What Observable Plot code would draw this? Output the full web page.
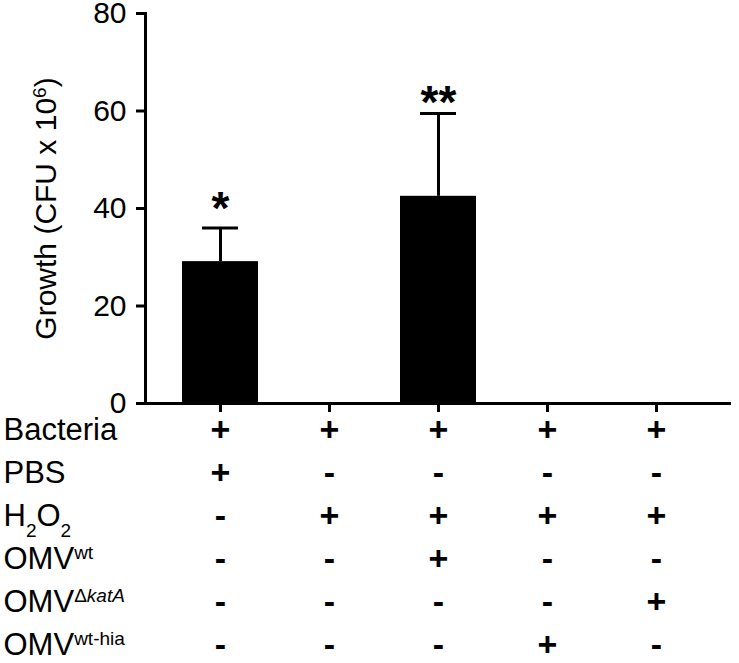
<!DOCTYPE html>
<html>
<head>
<meta charset="utf-8">
<script src="https://cdn.jsdelivr.net/npm/d3@7"></script>
<script src="https://cdn.jsdelivr.net/npm/@observablehq/plot@0.6"></script>
<style>
  html, body { margin: 0; padding: 0; background: white; }
  #chart svg { display: block; }
</style>
</head>
<body>
<div id="chart"></div>
<script>
// ---- data ----
const groups = ["G1", "G2", "G3", "G4", "G5"];
const growth = [29.1, 0, 42.5, 0, 0];
const growthErr = [6.9, 0, 17.0, 0, 0];
const stars = ["*", "", "**", "", ""];
const yTicks = [0, 20, 40, 60, 80];
const yLabel = "Growth (CFU x 106)";

const rows = ["Bacteria", "PBS", "H2O2", "OMVwt", "OMVΔkatA", "OMVwt-hia"];
const bacteria = ["+", "+", "+", "+", "+"];
const pbs      = ["+", "-", "-", "-", "-"];
const h2o2     = ["-", "+", "+", "+", "+"];
const omvWt    = ["-", "-", "+", "-", "-"];
const omvKatA  = ["-", "-", "-", "-", "+"];
const omvHia   = ["-", "-", "-", "+", "-"];
const rowSymbols = [bacteria, pbs, h2o2, omvWt, omvKatA, omvHia];

// rich-text pieces: [text, kind]
const richLabels = {
  "H2O2": [["H"], ["2", "sub"], ["O"], ["2", "sub"]],
  "OMVwt": [["OMV"], ["wt", "sup"]],
  "OMVΔkatA": [["OMV"], ["Δ", "sup"], ["katA", "supi"]],
  "OMVwt-hia": [["OMV"], ["wt-hia", "sup"]],
  "Growth (CFU x 106)": [["Growth (CFU x 10"], ["6", "sup"], [")"]]
};

// ---- tables built from arrays ----
const bars = groups.map((g, i) => ({group: g, value: growth[i], hi: growth[i] + growthErr[i], err: growthErr[i], star: stars[i]}));
const cells = [];
rows.forEach((r, ri) => groups.forEach((g, gi) => cells.push({row: r, group: g, sym: rowSymbols[ri][gi]})));

const font = "'Liberation Sans', Arial, Helvetica, sans-serif";
const xScale = {type: "band", domain: groups, paddingInner: 0.3, paddingOuter: 0.32};

const barChart = Plot.plot({
  width: 739, height: 414,
  marginLeft: 145, marginRight: 8, marginTop: 13, marginBottom: 11,
  style: {fontFamily: font, fontSize: "30px", color: "black", background: "white", overflow: "visible"},
  x: xScale,
  y: {domain: [0, 80]},
  marks: [
    Plot.barY(bars, {x: "group", y: "value", fill: "black"}),
    Plot.ruleX(bars.filter(d => d.err > 0), {x: "group", y1: "value", y2: "hi", stroke: "black", strokeWidth: 3}),
    Plot.tickY(bars.filter(d => d.err > 0), {x: "group", y: "hi", stroke: "black", strokeWidth: 3, insetLeft: 20, insetRight: 20}),
    Plot.ruleY([0], {stroke: "black", strokeWidth: 3}),
    Plot.frame({anchor: "left", stroke: "black", strokeWidth: 3}),
    Plot.axisY({ticks: yTicks, tickSize: 9, tickPadding: 10, stroke: "black", strokeWidth: 3, fontSize: 30, label: null}),
    Plot.axisX({tickSize: 9, stroke: "black", strokeWidth: 3, tickFormat: () => "", label: null}),
    Plot.text(bars.filter(d => d.star === "*"), {x: "group", y: "hi", text: "star", lineAnchor: "bottom", fontSize: 46, fontWeight: "bold", dy: -4}),
    Plot.text(bars.filter(d => d.star === "**"), {x: "group", y: "hi", text: "star", lineAnchor: "bottom", fontSize: 46, fontWeight: "bold", dy: 5}),
    Plot.text([yLabel], {text: d => d, frameAnchor: "left", textAnchor: "middle", lineAnchor: "middle", rotate: -90, dx: -99, fontSize: 30})
  ]
});

const tableChart = Plot.plot({
  width: 739, height: 249,
  marginLeft: 145, marginRight: 8, marginTop: 14, marginBottom: 17,
  style: {fontFamily: font, fontSize: "30px", color: "black", background: "white", overflow: "visible"},
  x: {...xScale, axis: null},
  y: {type: "point", domain: rows, padding: 0, axis: null},
  marks: [
    Plot.text(cells, {x: "group", y: "row", text: "sym", fontSize: 34, fontWeight: "bold"}),
    Plot.text(rows, {y: d => d, text: d => d, frameAnchor: "left", dx: -142, textAnchor: "start", fontSize: 31})
  ]
});

const el = document.getElementById("chart");
el.appendChild(barChart);
el.appendChild(tableChart);

// ---- rich text (sub/superscripts) ----
const shifts = {sup: -10, supi: -10, sub: 11};
d3.select(el).selectAll("text").each(function() {
  const parts = richLabels[this.textContent];
  if (!parts) return;
  const t = d3.select(this);
  t.text(null);
  let cur = 0;
  for (const [s, kind] of parts) {
    const target = kind ? shifts[kind] : 0;
    const ts = t.append("tspan").text(s);
    if (target !== cur) ts.attr("dy", (target - cur) + "px");
    cur = target;
    if (kind) ts.attr("font-size", "19px");
    if (kind === "supi") ts.attr("font-style", "italic");
  }
});
</script>
</body>
</html>
